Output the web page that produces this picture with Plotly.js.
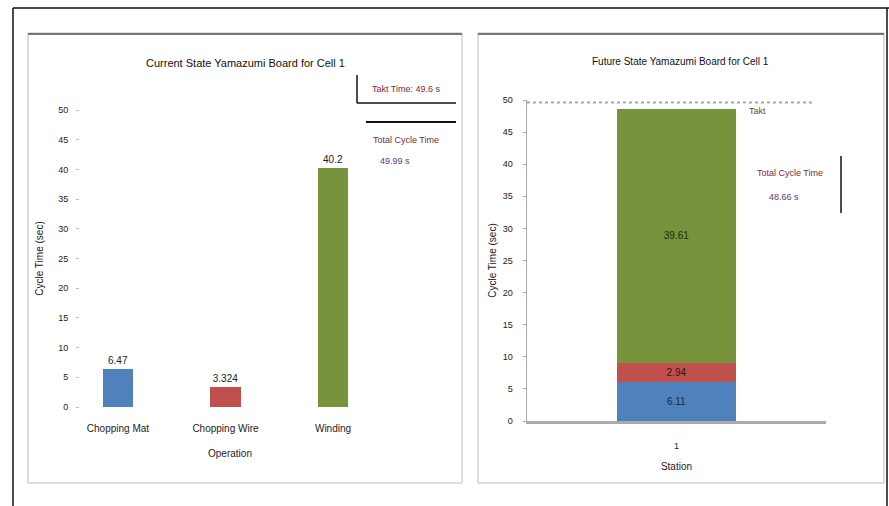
<!DOCTYPE html>
<html>
<head>
<meta charset="utf-8">
<script src="https://cdn.plot.ly/plotly-3.0.1.min.js"></script>
<style>html,body{margin:0;padding:0;background:#fff;}#chart{width:889px;height:506px;}</style>
</head>
<body>
<div id="chart"></div>
<script>
// ---- data ----
const currentOps = ["Chopping Mat", "Chopping Wire", "Winding"];
const currentTimes = [6.47, 3.324, 40.2];
const currentColors = ["#4F81BD", "#C0504D", "#77933C"];

const futureCategory = ["1"];
const futureSeriesNames = ["Chopping Mat", "Chopping Wire", "Winding"];
const futureBlue = [6.11];
const futureRed = [2.94];
const futureGreen = [39.61];
const taktTime = 49.6;

const yTicks = [0, 5, 10, 15, 20, 25, 30, 35, 40, 45, 50];

const W = 889, H = 506;
const px = v => v / W;
const py = v => 1 - v / H;
const FONT = "Liberation Sans Narrow, Liberation Sans, Arial";

const traces = [
  {
    type: "bar", x: currentOps, y: currentTimes, xaxis: "x", yaxis: "y",
    marker: {color: currentColors}, width: 0.28,
    text: currentTimes.map(String), textposition: "outside", cliponaxis: false,
    textfont: {family: FONT, size: 10, color: "#222"}, showlegend: false, hoverinfo: "x+y"
  },
  {
    type: "bar", x: futureCategory, y: futureBlue, xaxis: "x2", yaxis: "y2", name: futureSeriesNames[0],
    marker: {color: "#4F81BD"}, width: 0.4, text: futureBlue.map(String), textposition: "inside",
    insidetextanchor: "middle", textfont: {family: FONT, size: 10, color: "#1a2a40"}, showlegend: false
  },
  {
    type: "bar", x: futureCategory, y: futureRed, xaxis: "x2", yaxis: "y2", name: futureSeriesNames[1],
    marker: {color: "#C0504D"}, width: 0.4, text: futureRed.map(String), textposition: "inside",
    insidetextanchor: "middle", textfont: {family: FONT, size: 10, color: "#3a1010"}, showlegend: false
  },
  {
    type: "bar", x: futureCategory, y: futureGreen, xaxis: "x2", yaxis: "y2", name: futureSeriesNames[2],
    marker: {color: "#77933C"}, width: 0.4, text: futureGreen.map(String), textposition: "inside",
    insidetextanchor: "middle", textfont: {family: FONT, size: 10, color: "#1e2a0e"}, showlegend: false
  }
];

const ann = (x, y, text, size, color) => ({
  xref: "paper", yref: "paper", x: px(x), y: py(y), xanchor: "center", yanchor: "middle",
  text: text, showarrow: false, font: {family: FONT, size: size, color: color}
});

const layout = {
  width: W, height: H,
  margin: {l: 0, r: 0, t: 0, b: 0},
  paper_bgcolor: "#fff", plot_bgcolor: "rgba(0,0,0,0)",
  barmode: "stack",
  font: {family: FONT, size: 10, color: "#222"},
  xaxis: {
    type: "category",
    domain: [px(80), px(380)], range: [-0.353, 2.437], anchor: "y",
    showline: false, ticks: "", showgrid: false, zeroline: false,
    tickfont: {family: FONT, size: 10, color: "#222"}, ticklabelstandoff: 14,
    title: {text: "Operation", font: {family: FONT, size: 10, color: "#222"}, standoff: 16}
  },
  yaxis: {
    domain: [py(407), py(110)], range: [0, 50], anchor: "x",
    tickvals: yTicks, showline: false, showgrid: false, zeroline: false,
    ticks: "outside", ticklen: 3, tickcolor: "#bbb", ticklabelstandoff: 6,
    tickfont: {family: FONT, size: 9, color: "#222"},
    title: {text: "Cycle Time (sec)", font: {family: FONT, size: 10, color: "#222"}, standoff: 12}
  },
  xaxis2: {
    type: "category",
    domain: [px(527), px(826)], range: [-0.5, 0.5], anchor: "y2",
    showline: true, linecolor: "#aaa", linewidth: 3, ticks: "", showgrid: false, zeroline: false,
    tickfont: {family: FONT, size: 9, color: "#222"}, ticklabelstandoff: 14,
    title: {text: "Station", font: {family: FONT, size: 10, color: "#222"}, standoff: 14}
  },
  yaxis2: {
    domain: [py(421), py(100)], range: [0, 50], anchor: "x2",
    tickvals: yTicks, showline: true, linecolor: "#aaa", linewidth: 1.5, showgrid: false, zeroline: false,
    ticks: "outside", ticklen: 3, tickcolor: "#aaa", ticklabelstandoff: 8,
    tickfont: {family: FONT, size: 9, color: "#222"},
    title: {text: "Cycle Time (sec)", font: {family: FONT, size: 10, color: "#222"}, standoff: 4}
  },
  shapes: [
    // outer frame
    {type: "line", xref: "paper", yref: "paper", x0: px(13), x1: px(889), y0: py(8), y1: py(8), line: {color: "#111", width: 1.5}},
    {type: "line", xref: "paper", yref: "paper", x0: px(13), x1: px(13), y0: py(8), y1: 0, line: {color: "#111", width: 1.5}},
    {type: "line", xref: "paper", yref: "paper", x0: px(887), x1: px(887), y0: py(8), y1: 0, line: {color: "#111", width: 1.5}},
    // left panel
    {type: "rect", xref: "paper", yref: "paper", x0: px(28), x1: px(462), y0: py(483), y1: py(33), line: {color: "#bbb", width: 1}},
    {type: "line", xref: "paper", yref: "paper", x0: px(28), x1: px(462), y0: py(34), y1: py(34), line: {color: "#777", width: 2}},
    // right panel
    {type: "rect", xref: "paper", yref: "paper", x0: px(478), x1: px(884), y0: py(483), y1: py(33), line: {color: "#bbb", width: 1}},
    {type: "line", xref: "paper", yref: "paper", x0: px(478), x1: px(884), y0: py(34), y1: py(34), line: {color: "#777", width: 2}},
    // left text box lines
    {type: "line", xref: "paper", yref: "paper", x0: px(357), x1: px(357), y0: py(75), y1: py(103), line: {color: "#111", width: 1.5}},
    {type: "line", xref: "paper", yref: "paper", x0: px(357), x1: px(456), y0: py(103), y1: py(103), line: {color: "#111", width: 1.5}},
    {type: "line", xref: "paper", yref: "paper", x0: px(366), x1: px(456), y0: py(122), y1: py(122), line: {color: "#111", width: 2}},
    // right text box line
    {type: "line", xref: "paper", yref: "paper", x0: px(841), x1: px(841), y0: py(156), y1: py(213), line: {color: "#111", width: 1.5}},
    // takt line (right)
    {type: "line", xref: "paper", yref: "y2", x0: px(527), x1: px(813), y0: taktTime, y1: taktTime, line: {color: "#aaa", width: 2, dash: "dot"}}
  ],
  annotations: [
    ann(245, 63, "Current State Yamazumi Board for Cell 1", 11, "#111"),
    ann(680, 62, "Future State Yamazumi Board for Cell 1", 10, "#111"),
    ann(406, 89, "Takt Time: 49.6 s", 9, "#7a2a3a"),
    ann(406, 140, "Total Cycle Time", 9, "#7a2a3a"),
    ann(395, 161, "49.99 s", 9, "#5a3a7a"),
    ann(790, 173, "Total Cycle Time", 9, "#7a2a3a"),
    ann(784, 197, "48.66 s", 9, "#5a3a7a"),
    ann(757, 111, "Takt", 9, "#6a4a20")
  ]
};

Plotly.newPlot("chart", traces, layout, {displayModeBar: false, staticPlot: true});
</script>
</body>
</html>
